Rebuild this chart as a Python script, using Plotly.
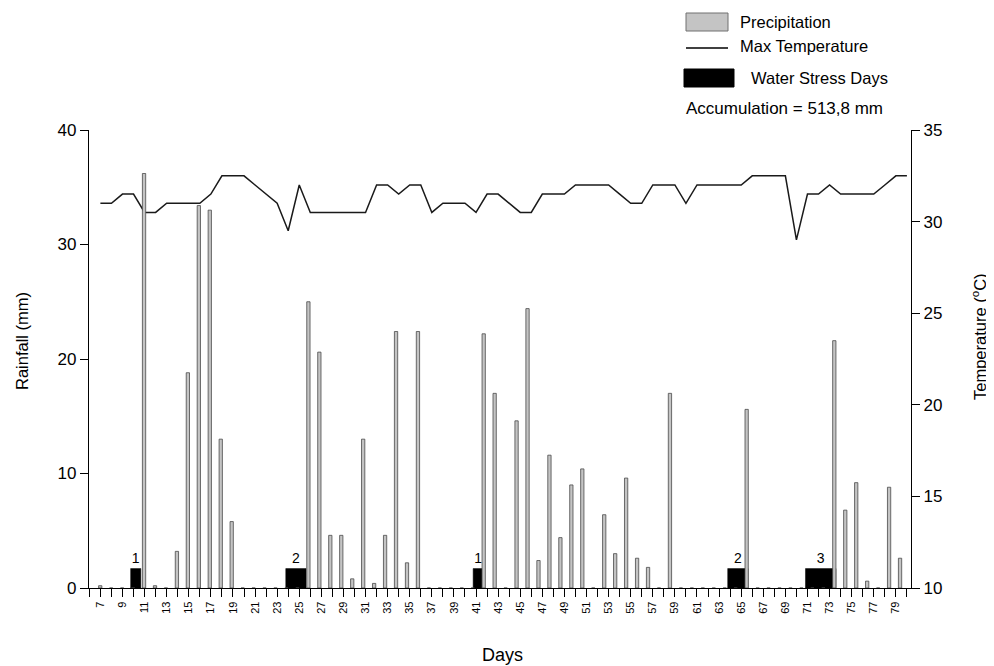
import plotly.graph_objects as go

# ---------------- data ----------------
days = [7, 8, 9, 10, 11, 12, 13, 14, 15, 16, 17, 18, 19, 20, 21, 22, 23, 24, 25, 26,
        27, 28, 29, 30, 31, 32, 33, 34, 35, 36, 37, 38, 39, 40, 41, 42, 43, 44, 45, 46,
        47, 48, 49, 50, 51, 52, 53, 54, 55, 56, 57, 58, 59, 60, 61, 62, 63, 64, 65, 66,
        67, 68, 69, 70, 71, 72, 73, 74, 75, 76, 77, 78, 79, 80]

precipitation = [0.2, 0, 0, 0, 36.2, 0.2, 0, 3.2, 18.8, 33.4, 33.0, 13.0, 5.8, 0, 0, 0, 0, 0, 0, 25.0,
                 20.6, 4.6, 4.6, 0.8, 13.0, 0.4, 4.6, 22.4, 2.2, 22.4, 0, 0, 0, 0, 0, 22.2, 17.0, 0, 14.6, 24.4,
                 2.4, 11.6, 4.4, 9.0, 10.4, 0, 6.4, 3.0, 9.6, 2.6, 1.8, 0, 17.0, 0, 0, 0, 0, 0, 0, 15.6,
                 0, 0, 0, 0, 0, 0, 0, 21.6, 6.8, 9.2, 0.6, 0, 8.8, 2.6]

max_temperature = [31, 31, 31.5, 31.5, 30.5, 30.5, 31, 31, 31, 31, 31.5, 32.5, 32.5, 32.5, 32, 31.5, 31, 29.5, 32, 30.5,
                   30.5, 30.5, 30.5, 30.5, 30.5, 32, 32, 31.5, 32, 32, 30.5, 31, 31, 31, 30.5, 31.5, 31.5, 31, 30.5, 30.5,
                   31.5, 31.5, 31.5, 32, 32, 32, 32, 31.5, 31, 31, 32, 32, 32, 31, 32, 32, 32, 32, 32, 32.5,
                   32.5, 32.5, 32.5, 29, 31.5, 31.5, 32, 31.5, 31.5, 31.5, 31.5, 32, 32.5, 32.5]

stress_start = [10, 24, 41, 64, 71]
stress_days = [1, 2, 1, 2, 3]
stress_level = [1.7, 1.7, 1.7, 1.7, 1.7]

accumulation_text = "Accumulation = 513,8 mm"

# ---------------- layout helpers ----------------
# the page body adds an 8px offset; work in window pixels and subtract it
OFF = 8
W, H = 994 - OFF, 666 - OFF
PLOT_L, PLOT_R, PLOT_T, PLOT_B = 89, 911, 130, 588  # window pixels
ML, MT = PLOT_L - OFF, PLOT_T - OFF
MR, MB = W - (PLOT_R - OFF), H - (PLOT_B - OFF)
PW, PH = W - ML - MR, H - MT - MB


def px(x):
    return (x - PLOT_L) / PW


def py(y):
    return (PLOT_B - y) / PH


FONT = "Liberation Sans, Arial, sans-serif"

stress_x = [s + (n - 1) / 2 + 0.2 for s, n in zip(stress_start, stress_days)]
stress_w = [n * 0.92 for n in stress_days]

fig = go.Figure()

fig.add_trace(go.Bar(
    x=stress_x, y=stress_level, width=stress_w,
    marker=dict(color="black", line=dict(color="black", width=0.5)),
    text=[str(n) for n in stress_days], textposition="outside",
    textfont=dict(size=14, color="black", family=FONT),
    cliponaxis=False, xaxis="x", yaxis="y", name="Water Stress Days",
    showlegend=False,
))

fig.add_trace(go.Bar(
    x=days, y=precipitation, width=0.3,
    marker=dict(color="#c4c4c4", line=dict(color="#4a4a4a", width=0.8)),
    xaxis="x2", yaxis="y", name="Precipitation", showlegend=False,
))

fig.add_trace(go.Scatter(
    x=days, y=max_temperature, mode="lines",
    line=dict(color="#1a1a1a", width=1.5),
    xaxis="x", yaxis="y2", name="Max Temperature", showlegend=False,
))

axis_common = dict(showline=True, linecolor="black", linewidth=1.3, ticks="outside",
                   tickcolor="black", tickwidth=1.3, showgrid=False, zeroline=False)

fig.update_layout(
    width=W, height=H,
    margin=dict(l=ML, r=MR, t=MT, b=MB, autoexpand=False),
    paper_bgcolor="white", plot_bgcolor="white",
    font=dict(family=FONT, color="black"),
    barmode="overlay",
    xaxis=dict(range=[5.97, 80.37], tickmode="linear", tick0=days[0], dtick=2, tickangle=-90,
               ticklen=8, tickfont=dict(size=11), anchor="y",
               minor=dict(ticks="outside", tickmode="linear", tick0=days[0], dtick=1,
                          ticklen=8, tickwidth=1.3, tickcolor="black", showgrid=False),
               **axis_common),
    xaxis2=dict(range=[5.976, 81.0], overlaying="x", visible=False, anchor="y"),
    yaxis=dict(range=[0, 40], tickvals=[0, 10, 20, 30, 40], ticklen=8,
               tickfont=dict(size=17), **axis_common),
    yaxis2=dict(range=[10, 35], tickvals=[10, 15, 20, 25, 30, 35], ticklen=8,
                tickfont=dict(size=17), overlaying="y", side="right", anchor="x",
                **axis_common),
    showlegend=False,
)

annotations = [
    dict(text="Rainfall (mm)", x=px(22), y=py(341), textangle=-90, font=dict(size=16.5)),
    dict(text="Temperature (<sup>o</sup>C)", x=px(979), y=py(336), textangle=-90, font=dict(size=16.5)),
    dict(text="Days", x=px(502), y=py(655), font=dict(size=18)),
    dict(text="Precipitation", x=px(738), y=py(22), xanchor="left", font=dict(size=16.5)),
    dict(text="Max Temperature", x=px(738), y=py(46), xanchor="left", font=dict(size=16.5)),
    dict(text="Water Stress Days", x=px(749), y=py(78), xanchor="left", font=dict(size=16.5)),
    dict(text=accumulation_text, x=px(684), y=py(108), xanchor="left", font=dict(size=17)),
]
for a in annotations:
    a.setdefault("xanchor", "center")
    fig.add_annotation(xref="paper", yref="paper", showarrow=False, yanchor="middle", **a)

fig.add_shape(type="rect", xref="paper", yref="paper", x0=px(686), x1=px(728), y0=py(31), y1=py(13),
              fillcolor="#c4c4c4", line=dict(color="#707070", width=1))
fig.add_shape(type="line", xref="paper", yref="paper", x0=px(686), x1=px(728), y0=py(48), y1=py(48),
              line=dict(color="black", width=1.5))
fig.add_shape(type="rect", xref="paper", yref="paper", x0=px(684), x1=px(734), y0=py(87), y1=py(69),
              fillcolor="black", line=dict(color="black", width=1))

fig.write_html("out.html")
